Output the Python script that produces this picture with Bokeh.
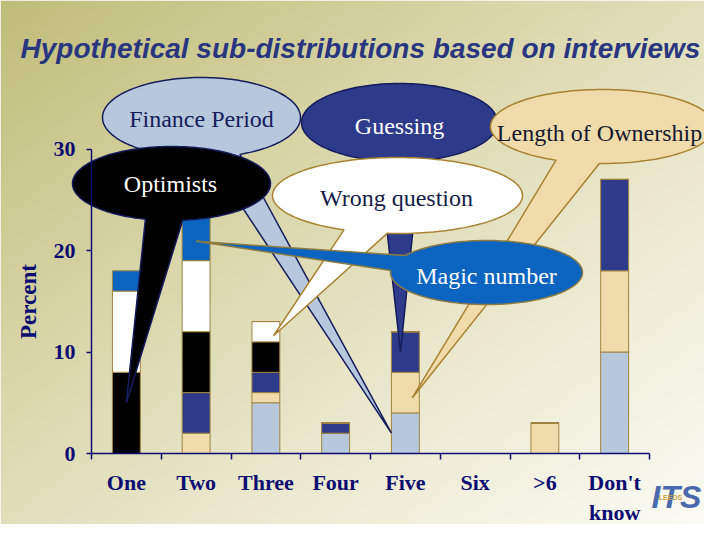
import numpy as np
from bokeh.plotting import figure
from bokeh.models import ColumnDataSource, LinearAxis, FixedTicker, Range1d, CustomJSTickFormatter
from bokeh.core.properties import value
from bokeh.embed import file_html
from bokeh.resources import INLINE

# ---------------- data ----------------
categories = ["One", "Two", "Three", "Four", "Five", "Six", ">6", "Don't\nknow"]
finance_period = [0, 0, 5, 2, 4, 0, 0, 10]
length_of_ownership = [0, 2, 1, 0, 4, 0, 3, 8]
guessing = [0, 4, 2, 1, 4, 0, 0, 9]
optimists = [8, 6, 3, 0, 0, 0, 0, 0]
wrong_question = [8, 7, 2, 0, 0, 0, 0, 0]
magic_number = [2, 5, 0, 0, 0, 0, 0, 0]
y_ticks = [0, 10, 20, 30]
title_text = "Hypothetical sub-distributions based on interviews"

series = ["Finance Period", "Length of Ownership", "Guessing", "Optimists", "Wrong question", "Magic number"]
series_values = [finance_period, length_of_ownership, guessing, optimists, wrong_question, magic_number]
colors = ["#b8c8dc", "#f0dcaa", "#2e3a8a", "#000000", "#ffffff", "#0a64c0"]

# ---------------- layout (reference pixel mapping) ----------------
X0_PX, PX_PER_X = 91.0, 69.75     # pixel of x=0 and pixels per category
Y0_PX, PX_PER_Y = 453.0, 10.15    # pixel of y=0 and pixels per percent
OFF = 0
W, H = 704, 524

def to_data(px, py):
    return (px - X0_PX) / PX_PER_X, (Y0_PX - py) / PX_PER_Y

def to_px(x, y):
    return X0_PX + x * PX_PER_X, Y0_PX - y * PX_PER_Y

x0, y1 = to_data(OFF, OFF)
x1, y0 = to_data(OFF + W, OFF + H)

p = figure(width=W, height=H, x_range=Range1d(x0, x1), y_range=Range1d(y0, y1),
           output_backend="svg", toolbar_location=None,
           x_axis_location=None, y_axis_location=None, min_border=0,
           outline_line_color=None)
p.grid.visible = False
p.border_fill_color = "#e8e6cc"

# ---------------- background gradient ----------------
GW, GH = 352, 262
gx = OFF + (np.arange(GW) + 0.5) * W / GW
gy = OFF + H - (np.arange(GH) + 0.5) * H / GH   # row 0 = bottom
U, V = np.meshgrid(gx / 720.0, gy / 540.0)
T = (U + V) / 2.0
stops = [0.0, 0.3, 0.6, 1.0]
rs = [192, 213, 233, 253]
gs = [189, 210, 230, 253]
bs = [122, 162, 202, 247]
img = np.empty((GH, GW), dtype=np.uint32)
view = img.view(dtype=np.uint8).reshape((GH, GW, 4))
view[:, :, 0] = np.interp(T, stops, rs).astype(np.uint8)
view[:, :, 1] = np.interp(T, stops, gs).astype(np.uint8)
view[:, :, 2] = np.interp(T, stops, bs).astype(np.uint8)
view[:, :, 3] = 255
p.image_rgba(image=[img], x=x0, y=y0, dw=x1 - x0, dh=y1 - y0)

# ---------------- stacked bars ----------------
data = {"x": [i + 0.5 for i in range(len(categories))]}
for name, vals in zip(series, series_values):
    data[name] = vals
source = ColumnDataSource(data)
p.vbar_stack(series, x="x", width=0.4, fill_color=colors, line_color="#a08440",
             line_width=1, source=source)

# ---------------- axes ----------------
navy = "#0c0c72"
yaxis = LinearAxis(fixed_location=0, bounds=(0, 30), ticker=FixedTicker(ticks=y_ticks),
                   axis_line_color=navy, axis_line_width=1.5,
                   major_tick_line_color=navy, major_tick_line_width=1.5,
                   major_tick_out=5, major_tick_in=0, minor_tick_out=0, minor_tick_in=0,
                   major_label_text_font="Liberation Serif", major_label_text_font_style="bold",
                   major_label_text_font_size="22px", major_label_text_color=navy,
                   major_label_standoff=11,
                   axis_label="Percent", axis_label_text_font="Liberation Serif",
                   axis_label_text_font_style="bold", axis_label_text_font_size="23px",
                   axis_label_text_color=navy, axis_label_standoff=10)
p.add_layout(yaxis, "left")

xticks_axis = LinearAxis(fixed_location=0, bounds=(0, len(categories)),
                         ticker=FixedTicker(ticks=list(range(len(categories) + 1))),
                         axis_line_color=navy, axis_line_width=1.5,
                         major_tick_line_color=navy, major_tick_line_width=1.5,
                         major_tick_out=6, major_tick_in=0, minor_tick_out=0, minor_tick_in=0,
                         major_label_text_color=None)
p.add_layout(xticks_axis, "below")

xlabels_axis = LinearAxis(fixed_location=0, bounds=(0, len(categories)),
                          ticker=FixedTicker(ticks=[i + 0.5 for i in range(len(categories))]),
                          formatter=CustomJSTickFormatter(args=dict(labels=categories),
                                                          code="return labels[Math.round(tick - 0.5)];"),
                          axis_line_color=None, major_tick_line_color=None,
                          major_tick_out=0, major_tick_in=0, minor_tick_out=0, minor_tick_in=0,
                          major_label_text_font="Liberation Serif", major_label_text_font_style="bold",
                          major_label_text_font_size="22px", major_label_text_color=navy,
                          major_label_standoff=16)
p.add_layout(xlabels_axis, "below")

# ---------------- callouts ----------------
# ellipse geometry in reference pixels; tip = (x in categories, y in percent)
callouts = [
    dict(label="Finance Period", cx=201, cy=117, a=99, b=40, tip=(4.3, 2.0), d=0.16,
         fill="#b8c8dc", line="#141c5c", tcol="#141c5c", txy=(201, 118)),
    dict(label="Optimists", cx=171, cy=183, a=99, b=37, tip=(0.5, 5.0), d=0.19,
         fill="#000000", line="#141c5c", tcol="#ffffff", txy=(170, 183)),
    dict(label="Guessing", cx=399, cy=122, a=98, b=39, tip=(4.43, 10.0), d=0.21,
         fill="#2e3a8a", line="#141c5c", tcol="#ffffff", txy=(399, 125)),
    dict(label="Wrong question", cx=397, cy=195, a=125, b=38, tip=(2.61, 11.6), d=0.18,
         fill="#ffffff", line="#a88230", tcol="#141c48", txy=(396, 197)),
    dict(label="Length of Ownership", cx=602, cy=126, a=112, b=37, tip=(4.6, 5.5), d=0.2,
         fill="#f0dcaa", line="#a88230", tcol="#141830", txy=(599, 132)),
    dict(label="Magic number", cx=486, cy=272, a=96, b=32, tip=(1.5, 20.9), d=0.25,
         fill="#0a64c0", line="#8c7a40", tcol="#ffffff", txy=(486, 275)),
]

for c in callouts:
    tpx, tpy = to_px(*c["tip"])
    th = np.arctan2((tpy - c["cy"]) / c["b"], (tpx - c["cx"]) / c["a"])
    ts = np.linspace(th + c["d"], th - c["d"] + 2 * np.pi, 160)
    ex = list(c["cx"] + c["a"] * np.cos(ts)) + [tpx]
    ey = list(c["cy"] + c["b"] * np.sin(ts)) + [tpy]
    dx = [(v - X0_PX) / PX_PER_X for v in ex]
    dy = [(Y0_PX - v) / PX_PER_Y for v in ey]
    p.patch(dx, dy, fill_color=c["fill"], line_color=c["line"], line_width=1.5)
    lx, ly = to_data(*c["txy"])
    p.text(x=[lx], y=[ly], text=[c["label"]], text_font=value("Liberation Serif"),
           text_font_size=value("24px"), text_align="center", text_baseline="middle",
           text_color=c["tcol"])

# ---------------- title ----------------
tx, ty = to_data(360, 48)
p.text(x=[tx], y=[ty], text=[title_text], text_font=value("Liberation Sans"),
       text_font_style="bold italic", text_font_size=value("28px"), text_align="center",
       text_baseline="alphabetic", text_color="#2a3580")

# ---------------- logo ----------------
lx, ly = to_data(676, 496)
p.text(x=[lx], y=[ly], text=["ITS"], text_font=value("Liberation Sans"),
       text_font_style="bold italic", text_font_size=value("32px"), text_align="center",
       text_baseline="middle", text_color="#4a6aae")
sx, sy = to_data(670, 497)
p.text(x=[sx], y=[sy], text=["LEEDS"], text_font=value("Liberation Sans"),
       text_font_style="bold", text_font_size=value("7px"), text_align="center",
       text_baseline="middle", text_color="#c8a040")

open("out.html", "w").write(file_html(p, INLINE))
